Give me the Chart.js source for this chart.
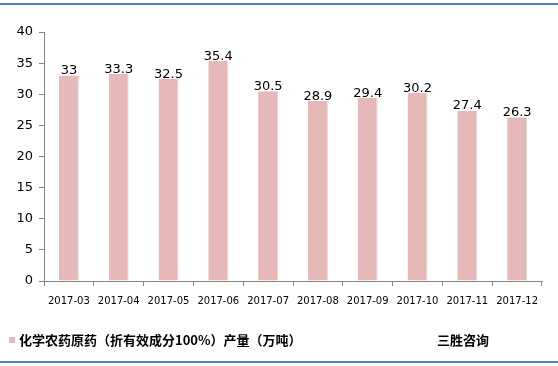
<!DOCTYPE html>
<html>
<head>
  <meta charset="utf-8">
  <title>化学农药原药产量</title>
  <script src="https://cdn.jsdelivr.net/npm/chart.js"></script>
  <style>
    html, body { margin: 0; padding: 0; background: #fff; }
    #wrap { position: relative; width: 558px; height: 366px; }
  </style>
</head>
<body>
  <div id="wrap"><canvas id="myChart" width="558" height="366"></canvas></div>

  <script>
    // data
    var months = ["2017-03", "2017-04", "2017-05", "2017-06", "2017-07",
                  "2017-08", "2017-09", "2017-10", "2017-11", "2017-12"];
    var output = [33, 33.3, 32.5, 35.4, 30.5, 28.9, 29.4, 30.2, 27.4, 26.3];
    var seriesName = "化学农药原药（折有效成分100%）产量（万吨）";
    var brand = "三胜咨询";

    var barColor = "#e6b9b8";
    var numFont = "'DejaVu Sans', sans-serif";
    var cjkFont = "'Noto Sans CJK SC', sans-serif";

    // value labels on top of each bar
    var valueLabels = {
      id: "valueLabels",
      afterDatasetsDraw: function (chart) {
        var ctx = chart.ctx;
        var meta = chart.getDatasetMeta(0);
        ctx.save();
        ctx.fillStyle = "#000";
        ctx.font = "13px " + numFont;
        ctx.textAlign = "center";
        ctx.textBaseline = "bottom";
        meta.data.forEach(function (bar, i) {
          ctx.fillText(String(output[i]), bar.x, bar.y + 2);
        });
        ctx.restore();
      }
    };

    // legend line, brand text and the blue frame lines
    var decorations = {
      id: "decorations",
      afterDraw: function (chart) {
        var ctx = chart.ctx;
        ctx.save();
        ctx.fillStyle = "#4f81bd";
        ctx.fillRect(0, 3, 558, 2);
        ctx.fillRect(0, 361, 558, 2);

        ctx.fillStyle = barColor;
        ctx.fillRect(9, 337, 6, 6);
        ctx.fillStyle = "#000";
        ctx.font = "bold 13px " + cjkFont;
        ctx.textBaseline = "middle";
        ctx.textAlign = "left";
        ctx.fillText(seriesName, 19, 340);
        ctx.fillText(brand, 437, 340);
        ctx.restore();
      }
    };

    function drawChart() {
      var ctx = document.getElementById("myChart").getContext("2d");

      new Chart(ctx, {
        type: "bar",
        data: {
          labels: months,
          datasets: [
            {
              label: seriesName,
              data: output,
              backgroundColor: barColor,
              borderColor: "#d9d9d9",
              borderWidth: { right: 1 },
              barPercentage: 0.4,
              categoryPercentage: 1
            }
          ]
        },
        options: {
          responsive: false,
          animation: false,
          layout: { padding: { left: 0, top: 32, right: 16, bottom: 0 } },
          plugins: {
            legend: { display: false },
            tooltip: { enabled: false }
          },
          scales: {
            x: {
              afterFit: function (s) { s.height = 85; },
              grid: {
                drawOnChartArea: false,
                color: "#868686",
                tickLength: 5
              },
              border: { color: "#868686" },
              ticks: {
                color: "#000",
                font: { family: numFont, size: 10 },
                maxRotation: 0,
                padding: 9
              }
            },
            y: {
              min: 0,
              max: 40,
              afterFit: function (s) { s.width = 44; },
              grid: {
                drawOnChartArea: false,
                color: "#868686",
                tickLength: 5
              },
              border: { color: "#868686" },
              ticks: {
                stepSize: 5,
                color: "#000",
                font: { family: numFont, size: 13 },
                padding: 6
              }
            }
          }
        },
        plugins: [valueLabels, decorations]
      });
    }

    drawChart();
  </script>
</body>
</html>
